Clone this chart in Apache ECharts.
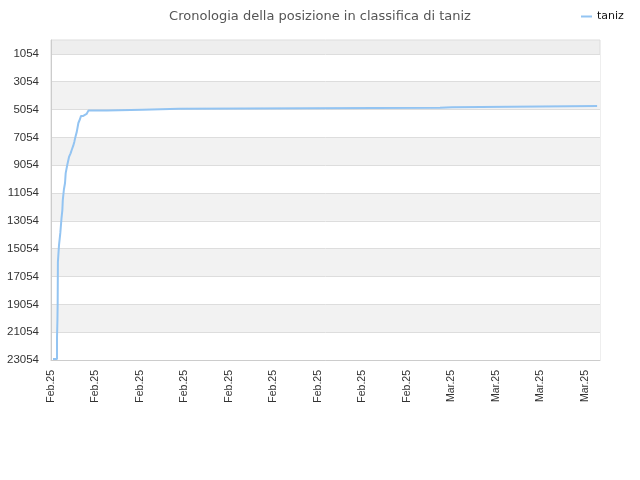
<!DOCTYPE html>
<html>
<head>
<meta charset="utf-8">
<title>Cronologia della posizione in classifica di taniz</title>
<script src="https://cdn.jsdelivr.net/npm/echarts@6/dist/echarts.min.js"></script>
<style>
    html, body { margin: 0; padding: 0; background: #fff; }
    #chart { width: 640px; height: 480px; }
</style>
</head>
<body>
<div id="chart"></div>
<script>
// giorni trascorsi dall'11 febbraio 2025
var days = [0.09, 0.27, 0.29, 0.30, 0.31, 0.36, 0.42, 0.47, 0.51, 0.53, 0.58, 0.63, 0.66,
    0.73, 0.81, 0.88, 0.93, 1.00, 1.05, 1.10, 1.16, 1.23, 1.30, 1.35, 1.45, 1.60, 1.68,
    2.50, 4.12, 5.75, 17.48, 18.02, 24.54];
// posizione in classifica
var ranks = [22980, 21460, 20100, 18900, 16020, 14800, 13900, 12900, 12280, 11560, 10800, 10330, 9620,
    9040, 8460, 8200, 7960, 7650, 7360, 7000, 6640, 6020, 5750, 5510, 5370, 5280, 5130,
    5060, 4990, 4920, 4880, 4800, 4800];
var yTicks = [1054, 3054, 5054, 7054, 9054, 11054, 13054, 15054, 17054, 19054, 21054, 23054];
var monthNames = ['Jan', 'Feb', 'Mar', 'Apr', 'May', 'Jun', 'Jul', 'Aug', 'Sep', 'Oct', 'Nov', 'Dec'];

var seriesData = days.map(function (d, i) { return [d, ranks[i]]; });

var chart = echarts.init(document.getElementById('chart'));

var option = {
    animation: false,
    textStyle: { fontFamily: 'DejaVu Sans' },
    title: {
        text: 'Cronologia della posizione in classifica di taniz',
        left: 'center',
        top: 5,
        textStyle: { fontSize: 13, fontWeight: 'normal', color: '#555', fontFamily: 'DejaVu Sans' }
    },
    legend: {
        data: ['taniz'],
        left: 576,
        top: 6,
        icon: 'rect',
        itemWidth: 11,
        itemHeight: 2,
        itemGap: 8,
        textStyle: { fontSize: 11, color: '#111', fontFamily: 'DejaVu Sans' }
    },
    grid: {
        left: 51,
        right: 40,
        top: 40,
        bottom: 120,
        show: true,
        backgroundColor: '#eeeeee',
        borderColor: '#dddddd',
        borderWidth: 1
    },
    xAxis: {
        type: 'value',
        min: 0,
        max: 24.67,
        interval: 2,
        axisLine: { show: true, lineStyle: { color: '#cccccc' } },
        axisTick: { show: false },
        splitLine: { show: false },
        axisLabel: {
            rotate: 90,
            margin: 10,
            showMaxLabel: false,
            fontSize: 10.5,
            color: '#333',
            fontFamily: 'Liberation Sans',
            formatter: function (v) {
                var d = new Date(2025, 1, 11 + Math.round(v));
                return monthNames[d.getMonth()] + '.' + String(d.getFullYear()).slice(2);
            }
        }
    },
    yAxis: {
        type: 'value',
        inverse: true,
        min: 54,
        max: 23054,
        axisLine: { show: true, lineStyle: { color: '#cccccc' } },
        axisTick: { show: false, customValues: yTicks },
        axisLabel: {
            customValues: yTicks,
            margin: 12,
            fontSize: 11.5,
            color: '#333',
            fontFamily: 'Liberation Sans',
            formatter: function (v) { return String(v); }
        },
        splitLine: { show: true, lineStyle: { color: '#dddddd' } },
        splitArea: { show: true, areaStyle: { color: ['#ffffff', '#f2f2f2'] } }
    },
    series: [
        {
            name: 'taniz',
            type: 'line',
            step: 'end',
            showSymbol: false,
            data: seriesData,
            lineStyle: { color: '#93c4f2', width: 2 },
            itemStyle: { color: '#93c4f2' }
        }
    ]
};

chart.setOption(option);

window.addEventListener('resize', function () {
    chart.resize();
});
</script>
</body>
</html>
